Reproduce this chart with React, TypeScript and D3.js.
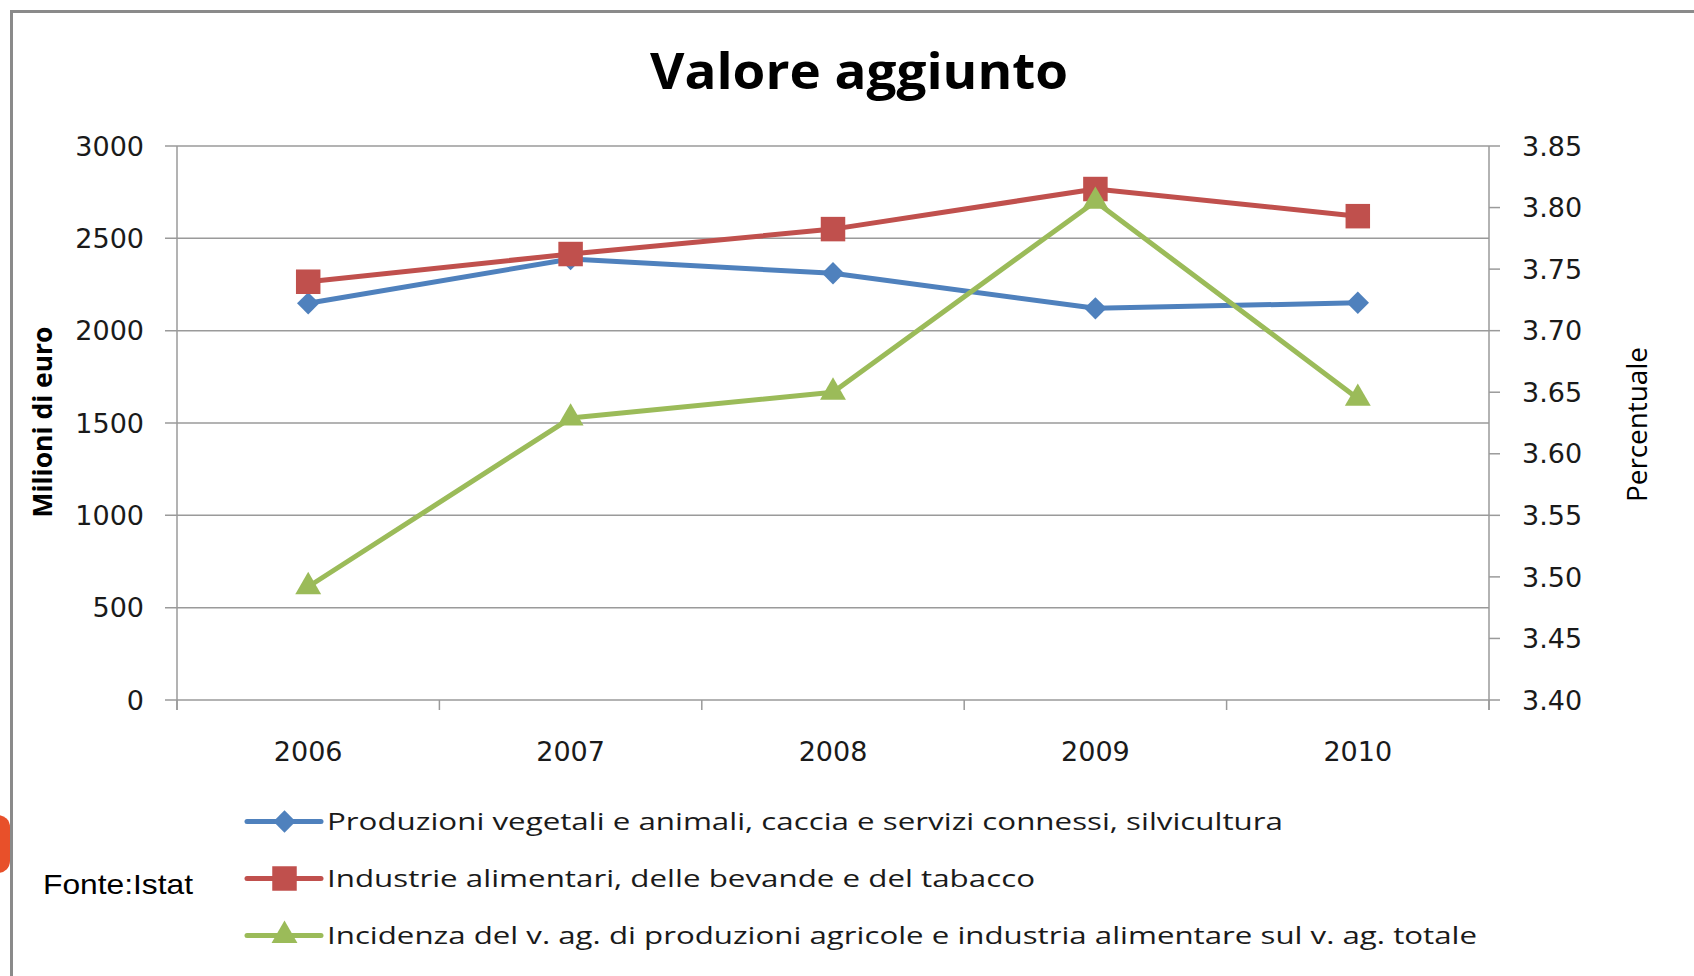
import React from "react";
import * as d3 from "d3";

const years = ["2006", "2007", "2008", "2009", "2010"];
const produzioni = [2148, 2388, 2311, 2121, 2151];
const industrie = [2265, 2415, 2550, 2767, 2620];
const incidenza = [3.492, 3.629, 3.65, 3.805, 3.645];
const leftTicks = [0, 500, 1000, 1500, 2000, 2500, 3000];
const rightTicks = [3.4, 3.45, 3.5, 3.55, 3.6, 3.65, 3.7, 3.75, 3.8, 3.85];
const seriesNames = [
  "Produzioni vegetali e animali, caccia e servizi connessi, silvicultura",
  "Industrie alimentari, delle bevande e del tabacco",
  "Incidenza del v. ag. di produzioni agricole e industria alimentare sul v. ag. totale",
];
const colors = ["#4F81BD", "#C0504D", "#9BBB59"];

const W = 1694;
const H = 976;
const PL = 177, PR = 1489, PT = 146, PB = 700;

export default function App() {
  const x = d3.scaleBand<string>().domain(years).range([PL, PR]);
  const cx = (d: string) => (x(d) as number) + x.bandwidth() / 2;
  const yL = d3.scaleLinear().domain([0, 3000]).range([PB, PT]);
  const yR = d3.scaleLinear().domain([3.4, 3.85]).range([PB, PT]);

  const lineL = d3.line<number>().x((_, i) => cx(years[i])).y((v) => yL(v));
  const lineR = d3.line<number>().x((_, i) => cx(years[i])).y((v) => yR(v));

  const diamond = d3.symbol().type(d3.symbolSquare).size(250)() as string;
  const square = d3.symbol().type(d3.symbolSquare).size(600)() as string;
  const triangle = d3.symbol().type(d3.symbolTriangle).size(290)() as string;

  const markerPath = [diamond, square, triangle];
  const markerRot = [45, 0, 0];

  const series = [
    { vals: produzioni, y: yL, line: lineL },
    { vals: industrie, y: yL, line: lineL },
    { vals: incidenza, y: yR, line: lineR },
  ];

  const gridColor = "#9a9a9a";
  const tickFont = "'DejaVu Sans', Verdana, sans-serif";
  const textFont = "'Open Sans', 'Noto Sans', sans-serif";

  const bounds = [PL, ...years.map((d) => (x(d) as number) + x.bandwidth())];
  const legendRows = [821.5, 878.5, 935.5];
  const legendWidths = [956, 708, 1150];

  return (
    <svg
      width={W}
      height={H}
      style={{ position: "absolute", left: 0, top: 0, background: "#fff" }}
    >
      <rect x={0} y={0} width={W} height={H} fill="#fff" />
      {/* orange decoration */}
      <clipPath id="clipL">
        <rect x={0} y={0} width={10} height={H} />
      </clipPath>
      <rect x={-20} y={815} width={30} height={58} rx={12} fill="#E8502A" clipPath="url(#clipL)" />
      {/* frame */}
      <path d={`M11.5,${H} L11.5,11.5 L${W},11.5`} fill="none" stroke="#8a8a8a" strokeWidth={3} />

      {/* title */}
      <text
        x={859}
        y={89}
        textAnchor="middle"
        fontFamily={textFont}
        fontWeight={700}
        fontSize={51}
        fill="#000"
        textLength={418}
        lengthAdjust="spacingAndGlyphs"
      >
        Valore aggiunto
      </text>

      {/* gridlines and left ticks */}
      {leftTicks.map((t) => (
        <g key={t}>
          <line x1={165} x2={PR} y1={yL(t)} y2={yL(t)} stroke={gridColor} strokeWidth={1.5} />
          <text
            x={144}
            y={yL(t)}
            dy="0.36em"
            textAnchor="end"
            fontFamily={tickFont}
            fontSize={27}
            fill="#1a1a1a"
          >
            {t}
          </text>
        </g>
      ))}
      {/* right ticks */}
      {rightTicks.map((t) => (
        <g key={t}>
          <line x1={PR} x2={1500} y1={yR(t)} y2={yR(t)} stroke={gridColor} strokeWidth={1.5} />
          <text
            x={1522}
            y={yR(t)}
            dy="0.36em"
            textAnchor="start"
            fontFamily={tickFont}
            fontSize={27}
            fill="#1a1a1a"
          >
            {t.toFixed(2)}
          </text>
        </g>
      ))}
      {/* axes */}
      <line x1={PL} x2={PL} y1={PT} y2={710} stroke={gridColor} strokeWidth={1.5} />
      <line x1={PR} x2={PR} y1={PT} y2={710} stroke={gridColor} strokeWidth={1.5} />
      {bounds.map((b, i) => (
        <line key={i} x1={b} x2={b} y1={PB} y2={710} stroke={gridColor} strokeWidth={1.5} />
      ))}
      {years.map((d) => (
        <text
          key={d}
          x={cx(d)}
          y={761}
          textAnchor="middle"
          fontFamily={tickFont}
          fontSize={27}
          fill="#1a1a1a"
        >
          {d}
        </text>
      ))}

      {/* axis titles */}
      <text
        transform={`translate(52,422) rotate(-90)`}
        textAnchor="middle"
        fontFamily={textFont}
        fontWeight={700}
        fontSize={27}
        fill="#000"
        textLength={191}
        lengthAdjust="spacingAndGlyphs"
      >
        Milioni di euro
      </text>
      <text
        transform={`translate(1647,424.5) rotate(-90)`}
        textAnchor="middle"
        fontFamily={textFont}
        fontSize={27}
        fill="#000"
        textLength={155}
        lengthAdjust="spacingAndGlyphs"
      >
        Percentuale
      </text>

      {/* series */}
      {series.map((s, si) => (
        <g key={si}>
          <path
            d={s.line(s.vals) as string}
            fill="none"
            stroke={colors[si]}
            strokeWidth={5}
            strokeLinejoin="round"
            strokeLinecap="round"
          />
          {s.vals.map((v, i) => (
            <path
              key={i}
              d={markerPath[si]}
              transform={`translate(${cx(years[i])},${s.y(v)}) rotate(${markerRot[si]})`}
              fill={colors[si]}
            />
          ))}
        </g>
      ))}

      {/* legend */}
      {seriesNames.map((name, i) => (
        <g key={i}>
          <line
            x1={247}
            x2={321}
            y1={legendRows[i]}
            y2={legendRows[i]}
            stroke={colors[i]}
            strokeWidth={5}
            strokeLinecap="round"
          />
          <path
            d={markerPath[i]}
            transform={`translate(284.5,${legendRows[i]}) rotate(${markerRot[i]})`}
            fill={colors[i]}
          />
          <text
            x={327}
            y={legendRows[i] + 8}
            fontFamily={textFont}
            fontSize={23}
            fill="#1a1a1a"
            textLength={legendWidths[i]}
            lengthAdjust="spacingAndGlyphs"
          >
            {name}
          </text>
        </g>
      ))}

      {/* source */}
      <text
        x={43}
        y={894}
        fontFamily="'Liberation Sans', Arial, sans-serif"
        fontSize={28}
        fill="#000"
        textLength={150}
        lengthAdjust="spacingAndGlyphs"
      >
        Fonte:Istat
      </text>
    </svg>
  );
}
